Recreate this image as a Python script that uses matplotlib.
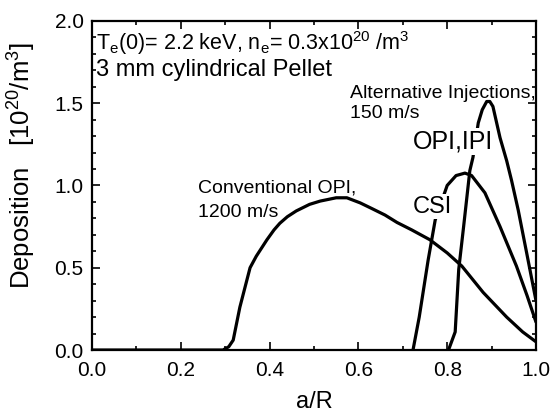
import matplotlib
matplotlib.use("Agg")
import matplotlib.pyplot as plt
from matplotlib.ticker import MultipleLocator

plt.rcParams['font.family'] = ['Liberation Sans', 'DejaVu Sans']
plt.rcParams['mathtext.fontset'] = 'custom'
plt.rcParams['mathtext.rm'] = 'Liberation Sans'
plt.rcParams['mathtext.it'] = 'Liberation Sans:italic'

# Conventional OPI, 1200 m/s
conv_x = [0.0, 0.295, 0.308, 0.318, 0.333, 0.356, 0.37, 0.394, 0.41, 0.423, 0.44, 0.46,
          0.49, 0.514, 0.55, 0.574, 0.604, 0.63, 0.66, 0.687, 0.72, 0.761, 0.80,
          0.833, 0.881, 0.934, 0.97, 1.0]
conv_y = [0.0, 0.0, 0.02, 0.06, 0.26, 0.50, 0.57, 0.67, 0.73, 0.77, 0.81, 0.845,
          0.885, 0.905, 0.925, 0.925, 0.894, 0.86, 0.82, 0.775, 0.73, 0.67, 0.59,
          0.51, 0.35, 0.20, 0.11, 0.05]

# CSI, 150 m/s
csi_x = [0.723, 0.737, 0.757, 0.773, 0.80, 0.82, 0.84, 0.855, 0.885, 0.919, 0.956, 0.98, 1.0]
csi_y = [0.0, 0.20, 0.545, 0.79, 1.00, 1.06, 1.075, 1.06, 0.955, 0.75, 0.51, 0.33, 0.17]

# OPI, IPI, 150 m/s
opi_x = [0.803, 0.818, 0.826, 0.837, 0.851, 0.858, 0.87, 0.879, 0.889, 0.896, 0.903,
         0.919, 0.934, 0.945, 0.96, 0.979, 1.0]
opi_y = [0.0, 0.11, 0.49, 0.75, 1.09, 1.17, 1.38, 1.46, 1.51, 1.51, 1.48,
         1.29, 1.15, 1.03, 0.85, 0.59, 0.30]

x_ticks = [0.0, 0.2, 0.4, 0.6, 0.8, 1.0]
y_ticks = [0.0, 0.5, 1.0, 1.5, 2.0]

fig = plt.figure(figsize=(5.56, 4.13), dpi=100)
ax = fig.add_axes([0.1655, 0.1525, 0.7985, 0.797])

lw = 2.3
for xs, ys in ((conv_x, conv_y), (csi_x, csi_y), (opi_x, opi_y)):
    ax.plot(xs, ys, color='black', lw=lw, zorder=2,
            solid_joinstyle='round', solid_capstyle='round')

ax.set_xlim(0.0, 1.0)
ax.set_ylim(0.0, 2.0)
ax.set_xticks(x_ticks)
ax.set_yticks(y_ticks)
ax.set_xticklabels([f"{v:.1f}" for v in x_ticks])
ax.set_yticklabels([f"{v:.1f}" for v in y_ticks])
ax.xaxis.set_minor_locator(MultipleLocator(0.1))
ax.yaxis.set_minor_locator(MultipleLocator(0.1))
ax.tick_params(which='both', direction='in', top=True, right=True, width=1.2)
ax.tick_params(which='major', length=6)
ax.tick_params(which='minor', length=3)
ax.tick_params(axis='x', which='major', labelsize=15, pad=8)
ax.tick_params(axis='y', which='major', labelsize=15, pad=6)
for s in ax.spines.values():
    s.set_linewidth(1.6)

ax.set_xlabel('a/R', fontsize=17, labelpad=8)
ax.set_ylabel('Deposition   [10$^{20}$/m$^{3}$]', fontsize=18.5)
ax.yaxis.set_label_coords(-0.122, 0.56)

ax.text(0.008, 1.82, r'T$_{\rm e}$(0)= 2.2 keV, n$_{\rm e}$= 0.3x10$^{20}$ /m$^{3}$',
        fontsize=15.5, va='baseline', ha='left')
ax.text(0.008, 1.667, '3 mm cylindrical Pellet', fontsize=17, va='baseline', ha='left')
ax.text(0.581, 1.53, 'Alternative Injections,', fontsize=14, va='baseline', ha='left')
ax.text(0.581, 1.41, '150 m/s', fontsize=14, va='baseline', ha='left')
ax.text(0.239, 0.955, 'Conventional OPI,', fontsize=14, va='baseline', ha='left')
ax.text(0.239, 0.81, '1200 m/s', fontsize=14, va='baseline', ha='left')
bb = dict(facecolor='white', edgecolor='none', pad=1.0)
ax.text(0.722, 1.227, 'OPI,IPI', fontsize=18, va='baseline', ha='left', bbox=bb, zorder=3)
ax.text(0.723, 0.834, 'CSI', fontsize=17, va='baseline', ha='left', bbox=bb, zorder=3)

fig.savefig('out.png', dpi=100)
